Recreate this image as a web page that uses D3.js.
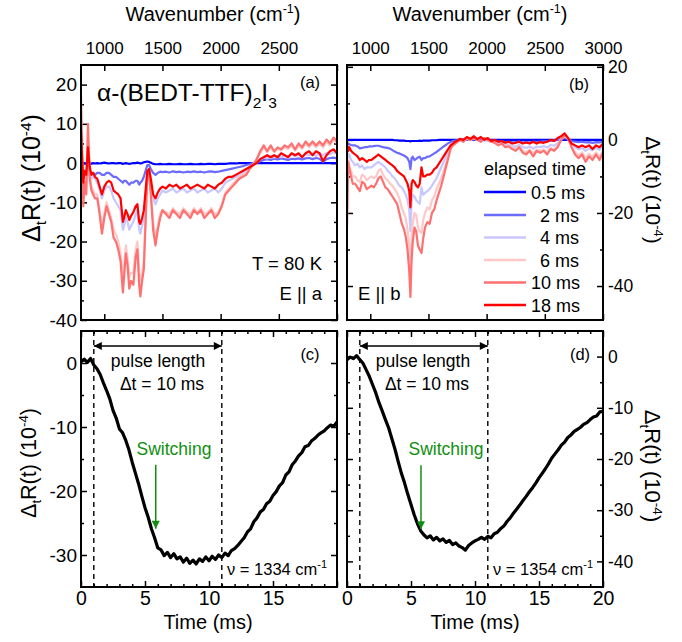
<!DOCTYPE html>
<html>
<head>
<meta charset="utf-8">
<script src="https://cdn.jsdelivr.net/npm/d3@7"></script>
<style>
  body { margin: 0; background: #fff; }
</style>
</head>
<body>
<script>
// ---- data ----
// (a) E || a spectra, wavenumber grid in cm-1
var wnA = [800,810,820,830,845,860,875,890,905,920,
  940,960,980,1000,1020,1040,1060,1080,1100,1120,
  1140,1160,1170,1185,1200,1215,1230,1250,1270,1285,
  1300,1310,1325,1340,1355,1370,1385,1400,1420,1440,
  1460,1480,1500,1530,1560,1590,1620,1650,1680,1710,
  1740,1770,1800,1830,1860,1890,1920,1950,1980,2010,
  2040,2070,2100,2130,2160,2190,2220,2250,2280,2310,
  2340,2370,2400,2430,2460,2490,2520,2550,2580,2610,
  2640,2670,2700,2730,2760,2790,2820,2850,2880,2910,
  2940,2970,3000];
var a05 = [0.5,0.2,-0.3,0,-0.2,0.3,0,-0.2,0,-0.1,
  0,-0.1,0,0.1,0,-0.1,0,0,-0.1,0,
  0,-0.2,-0.1,0,-0.1,-0.2,-0.1,0,0,0.1,
  0,-0.1,0,0.2,0.3,0.4,0.3,0.1,-0.2,-0.3,
  -0.3,-0.2,-0.3,-0.3,-0.2,-0.3,-0.3,-0.2,-0.3,-0.3,
  -0.2,-0.3,-0.3,-0.2,-0.3,-0.2,-0.2,-0.3,-0.2,-0.2,
  -0.2,-0.1,-0.1,-0.1,0,0,0,0,0,0,
  0,0,0,0,0,0,0,0,0,0,
  0,0,0,0,0,0,0,0,0,0,
  0,0,0];
var a2 = [-1,-2,-3,-2,-2.5,-1.5,-2,-2.5,-2.5,-3,
  -2.5,-2.5,-3,-3,-2.5,-2.5,-3,-3.5,-3.5,-4,
  -4.5,-5,-4.5,-4.5,-5,-5.5,-5,-5,-4.5,-4.5,
  -5.5,-5,-4.5,-3.5,-2,-0.5,-0.5,-1.5,-2.5,-3,
  -2.5,-2.2,-2.3,-2.2,-2.4,-2.1,-2.3,-2.2,-2.4,-2.2,
  -2.3,-2.1,-2.3,-2.2,-2.4,-2.2,-2.1,-2.3,-2.2,-2,
  -1.8,-1.6,-1.4,-1.2,-1,-0.8,-0.5,-0.3,0,0.3,
  0.5,0.8,1,0.8,1.1,0.9,1.2,1,0.8,1.1,
  1,1.2,0.9,1.2,1.3,1,1.3,1.1,0.3,1,
  1.3,1.4,1.2];
var a4 = [6,0,-6,-3,-5,5,-2,-4,-3.5,-4,
  -5,-7,-9,-7,-6,-6,-7,-9,-10,-11,
  -12,-17,-16,-14,-15,-17,-16,-15,-13,-12,
  -17,-18,-16,-14,-8,-2.5,-2,-5,-9,-10.5,
  -9,-8,-7,-7.5,-7,-6.5,-7.5,-7,-6.5,-7.5,
  -7,-6.5,-7.5,-7,-6.5,-7.5,-7,-6.5,-7.5,-6.5,
  -5,-4.5,-4,-3.5,-3,-2.5,-2,-1,-0.5,0,
  1,1.5,1.2,1.8,1.4,1.8,1.5,2,1.6,2.2,
  1.7,2.2,1.6,2.3,2,2.4,1.8,2.5,2,2.6,
  2.2,2.8,2.3];
var a6 = [12,1,-9,-4,-7,7,-3,-6,-7,-8,
  -8,-12,-16,-13,-10,-12,-14,-17,-18,-20,
  -23,-29,-27,-21,-24,-29,-28,-28,-22,-20,
  -28,-30,-28,-25,-14,-3,-2,-7,-15,-19,
  -16,-13,-12,-12.5,-13,-11.5,-12.5,-13,-11.5,-12.5,
  -13,-11.5,-12.5,-11.5,-13,-12.5,-11.5,-13,-12.5,-10.5,
  -7.5,-6.5,-5.5,-4.5,-3.5,-3,-2.5,-1.2,-0.3,1,
  2.5,4,2.8,4,2.8,3.6,3.2,4,3.6,4.5,
  3.2,4.5,3.6,5,4,5,4,5,4,5.5,
  4.5,6,5];
var a10 = [17,2,-11,-5,-8,10,-4,-7,-8,-9,
  -9,-13,-18,-14,-11,-13,-15,-19,-20,-22,
  -25,-33,-29,-23,-26,-32,-30,-31,-24,-22,
  -31,-34,-30,-27,-15,-3,-2,-8,-17,-21,
  -17,-14,-12,-13,-14,-12,-13,-14,-12,-13,
  -14,-12,-13,-12,-14,-13,-12,-14,-13,-11,
  -8,-7,-6,-5,-4,-3.5,-3,-1.5,-0.5,1,
  3,4.5,3,4.5,3,4,3.5,4.5,4,5,
  3.5,5,4,5.5,4.5,5.5,4.5,5.5,4.5,6,
  5,6.5,5.5];
var a18 = [8,1,-5,-2,-3,4,-1,-3,-2.5,-3.5,
  -4,-6,-8,-6,-5,-4.5,-5,-7,-7.5,-8,
  -9,-15,-14,-12,-13,-14.5,-13.5,-12.5,-11,-10.5,
  -15,-15.5,-14,-12,-7,-2,-1.5,-4,-8,-9,
  -7.5,-6.5,-6,-6.5,-5.5,-6,-5.5,-6.5,-6,-5.5,
  -6.5,-6,-5.5,-6,-6.5,-5.5,-6,-6.5,-5.5,-5,
  -4,-3.5,-3.5,-3,-2.5,-2,-1.5,-1,-0.5,0,
  1,1.5,2,1.5,2,1.5,2.5,2,1.5,2.5,
  2,2.5,1.5,2.5,3,2,3,2.5,0.5,2,
  3,3.5,2.5];

// (b) E || b spectra
var wnB = [800,810,820,835,850,870,890,910,930,950,
  970,990,1010,1030,1050,1070,1090,1110,1130,1150,
  1170,1190,1210,1230,1250,1270,1290,1305,1320,1335,
  1345,1355,1365,1380,1395,1410,1425,1440,1455,1470,
  1490,1510,1530,1550,1570,1590,1610,1630,1650,1670,
  1690,1710,1730,1750,1770,1800,1830,1860,1890,1920,
  1950,1980,2010,2040,2070,2100,2130,2160,2190,2220,
  2250,2280,2310,2340,2370,2400,2430,2460,2490,2520,
  2550,2580,2610,2640,2670,2700,2730,2760,2790,2820,
  2850,2880,2910,2940,2970,3000];
var b05 = [0,0,0,0,0,0,0,0,0,0,
  0,0,0,0,0,0,0,0,0,0,
  0,0,-0.1,-0.1,-0.2,-0.2,-0.2,-0.3,-0.3,-0.3,
  -0.4,-0.3,-0.3,-0.3,-0.3,-0.3,-0.2,-0.3,-0.2,-0.2,
  -0.2,-0.2,-0.1,-0.1,-0.1,0,0,0,0,0,
  0,0,0,0,0,0,0,0,0,0,
  0,0,0,0,0,0,0,0,0,0,
  0,0,0,0,0,0,0,0,0,0,
  0,0,0,0,0,0,0,0,0,0,
  0,0,0,0,0,0];
var b2 = [-0.5,-1,-1.2,-1.4,-1.5,-1.5,-1.8,-2.3,-2.2,-2,
  -2,-1.8,-1.8,-1.7,-1.6,-1.6,-1.8,-2,-2.1,-2.2,
  -2.4,-2.8,-3.2,-3.5,-3.7,-4,-4.3,-4.6,-5,-6,
  -8,-5,-4.6,-5.5,-5.2,-4.8,-4.6,-5.5,-5,-5,
  -4.6,-4.5,-4.1,-3.7,-3.3,-2.8,-2.3,-1.8,-1.4,-0.9,
  -0.6,-0.3,-0.2,-0.1,0,0,0.1,0,0.2,0,
  0,-0.1,0,-0.2,-0.3,-0.5,-0.4,-0.6,-0.5,-0.7,
  -0.6,-0.5,-0.7,-0.6,-0.7,-0.5,-0.6,-0.5,-0.4,-0.4,
  -0.2,-0.2,0,0.2,0.5,0.2,-0.3,-0.5,-0.6,-0.5,
  -0.7,-0.6,-0.8,-0.6,-0.7,-0.5];
var b4 = [-2,-5,-4,-5.5,-6,-7,-6.5,-7.5,-7,-8,
  -7.5,-7.5,-7.5,-7,-6.5,-6,-6.5,-7,-7.5,-8.5,
  -9,-10,-10.5,-11.5,-12.5,-13,-14,-15,-16.5,-19,
  -25,-17,-15,-15.5,-16.5,-17,-17.5,-13,-15,-14.5,
  -14,-13.5,-12.5,-11.5,-10.5,-9,-7.5,-6,-4.5,-3.5,
  -2,-1.2,-0.7,-0.3,0,-0.3,0.4,0,0.5,0,
  -0.4,0.2,-0.2,-0.5,-0.7,-1.2,-0.9,-1.5,-1.3,-1.7,
  -1.9,-1.4,-2,-2.2,-1.8,-2.4,-1.8,-2,-1.7,-2.1,
  -1.4,-1.6,-1,0.2,1.4,0.4,-1.2,-2,-2.6,-2.2,
  -3,-2.4,-2.8,-2.2,-2.7,-1.8];
var b6 = [-20,-5,-7,-8.5,-10,-10,-11,-11.5,-9.5,-10,
  -11,-10.5,-10,-10.5,-10,-8.5,-8,-9.5,-10.5,-11,
  -12,-12.5,-13.5,-14.5,-16,-18.5,-20,-21.5,-24.5,-29,
  -35,-27,-23,-20,-20.5,-24,-25,-25.5,-22,-20,
  -18.5,-19,-16.5,-15.5,-13.5,-12,-10.5,-8.5,-6.5,-4.3,
  -2.2,-1.3,-0.9,-0.5,0,-0.5,0.4,0,0.4,0,
  -0.5,0.3,-0.1,-0.5,-0.8,-1.3,-1,-1.7,-1.6,-2.2,
  -2.6,-1.8,-3,-3.4,-2.6,-3.8,-2.6,-3,-2.6,-3.4,
  -2.2,-2.6,-1.7,0,1.2,0.3,-1.8,-3.4,-4.2,-3.4,
  -5,-3.8,-4.6,-3.4,-4.6,-3];
var b10 = [-24,-6,-8,-10,-12,-12,-13,-14,-11.5,-12,
  -13.5,-13,-12.5,-13,-12,-10.5,-10,-11.5,-13,-13.5,
  -14.5,-15.5,-16.5,-17.5,-20,-22.8,-24.5,-26.5,-30,-36,
  -43,-33,-28,-24,-25,-29,-30,-31,-27,-24,
  -22.5,-23,-20,-19,-16.5,-14.5,-12.5,-10,-7.5,-5,
  -2.5,-1.5,-1,-0.5,0,-0.5,0.5,0,0.5,0,
  -0.5,0.5,0,-0.5,-0.8,-1.5,-1,-2,-1.8,-2.5,
  -3,-2,-3.5,-4,-3,-4.5,-3,-3.5,-3,-4,
  -2.5,-3,-2,0,1.5,0.5,-2,-4,-5,-4,
  -6,-4.5,-5.5,-4,-5.5,-3.5];
var b18 = [-1,-3,-2,-3,-3.5,-4,-4.5,-5.5,-5,-5.5,
  -6,-5.5,-5.5,-5,-4.5,-4,-4.5,-5,-5.5,-6,
  -6.5,-7,-7.5,-8.5,-9,-9.5,-10,-11,-12,-14,
  -18.5,-12,-11,-11.5,-12.5,-13,-12,-7.5,-10,-10,
  -9.5,-9.5,-9,-8,-7.5,-6.5,-5.5,-4.5,-3.5,-2.5,
  -1.5,-1,-0.5,-0.2,0.3,0,0.8,0.3,1,0.2,
  0.8,0,0.5,-0.3,0,-0.5,-0.3,-0.8,-0.5,-1,
  -0.8,-0.5,-1,-0.7,-1,-0.5,-1,-0.6,-0.8,-0.5,
  0,-0.3,0.5,1,1.8,0.5,-1,-1.5,-2,-1.5,
  -2,-1.5,-2.5,-1.5,-2,-1];

var elapsed = ["0.5 ms", "2 ms", "4 ms", "6 ms", "10 ms", "18 ms"];
var colors = ["#0000ff", "#6b6bff", "#c8c8ff", "#ffc8c8", "#ff7070", "#ff0000"];

// (c), (d) time traces, sampled every 0.25 ms from 0 to 20 ms
var tStep = 0.25;
var traceC = [0.2,0.6,0.1,0.7,-0.3,-0.9,-1.8,-3.1,-4.3,-5.6,
  -7.4,-8.6,-10.3,-10.9,-12.1,-13.6,-15.5,-17.2,-18.9,-20.8,
  -22.6,-24.1,-25.9,-27.3,-28.9,-29.2,-30.1,-29.6,-30.4,-29.8,
  -30.6,-30.3,-31.1,-30.5,-31.3,-30.8,-31.4,-30.6,-31.0,-30.3,
  -30.9,-30.2,-30.7,-30.0,-30.4,-29.7,-30.1,-29.3,-29.0,-28.5,
  -27.9,-27.3,-26.4,-25.9,-24.8,-24.2,-23.3,-22.9,-22.0,-21.6,
  -20.7,-20.1,-19.2,-18.7,-17.5,-17.0,-15.9,-15.3,-14.5,-14.0,
  -13.1,-12.9,-12.2,-11.8,-11.3,-10.9,-10.6,-10.1,-9.7,-9.9,
  -9.2];
var traceD = [-0.6,-0.1,-0.4,0.2,-0.6,-1.3,-2.6,-3.9,-5.5,-7.1,
  -9.0,-10.6,-12.3,-13.9,-16.0,-18.1,-20.5,-22.8,-24.7,-26.9,
  -28.9,-30.9,-32.6,-34.0,-34.8,-35.4,-35.0,-35.8,-35.3,-36.0,
  -35.6,-36.3,-35.9,-36.7,-36.4,-37.0,-37.3,-37.8,-36.9,-36.4,
  -36.0,-35.7,-35.3,-35.7,-35.1,-35.4,-34.6,-34.3,-33.6,-33.1,
  -32.2,-31.5,-30.6,-29.8,-29.0,-28.1,-27.3,-26.4,-25.6,-24.7,
  -23.7,-22.8,-21.9,-20.9,-19.8,-19.0,-18.2,-17.3,-16.7,-15.8,
  -15.3,-14.6,-14.2,-13.8,-13.2,-12.9,-12.3,-11.8,-11.6,-10.8,
  -10.7];

// ---- drawing ----
var W = 682, H = 642;
var font = '"Liberation Sans", Arial, Helvetica, sans-serif';
var svg = d3.select("body").append("svg")
    .attr("width", W).attr("height", H)
    .attr("font-family", font);

var xa = d3.scaleLinear().domain([800, 3000]).range([81, 337]);
var xb = d3.scaleLinear().domain([800, 3000]).range([347, 603]);
var ya = d3.scaleLinear().domain([-40, 25]).range([320, 65]);
var yb = d3.scaleLinear().domain([-49.3, 20.5]).range([320, 65]);
var xc = d3.scaleLinear().domain([0, 20]).range([81, 337]);
var xd = d3.scaleLinear().domain([0, 20]).range([347, 603]);
var yc = d3.scaleLinear().domain([-35, 5]).range([587, 331]);
var yd = d3.scaleLinear().domain([-45, 5]).range([587, 331]);

var defs = svg.append("defs");
function marker(id, col) {
  defs.append("marker")
      .attr("id", id)
      .attr("viewBox", "0 0 10 10")
      .attr("refX", 10).attr("refY", 5)
      .attr("markerWidth", 11).attr("markerHeight", 8)
      .attr("markerUnits", "userSpaceOnUse")
      .attr("orient", "auto-start-reverse")
    .append("path")
      .attr("d", "M0,0 L10,5 L0,10 z")
      .attr("fill", col);
}
marker("arrBlack", "#000");
marker("arrGreen", "#109010");

// one side of ticks (inward), optional labels
function ticks(axis, scale, tx, ty, vals, size, labels, pad, fs) {
  var ax = axis(scale).tickValues(vals)
      .tickSizeInner(-size).tickSizeOuter(0).tickPadding(pad || 4)
      .tickFormat(function(d) { return labels && labels.indexOf(d) >= 0 ? String(d) : ""; });
  var g = svg.append("g")
      .attr("transform", "translate(" + tx + "," + ty + ")")
      .call(ax);
  g.select(".domain").remove();
  g.selectAll("line").attr("stroke", "#000").attr("stroke-width", 1.5);
  g.selectAll("text").attr("font-size", fs || 17).attr("font-family", font).attr("fill", "#000");
}

function panel(id, xs, ys, o) {
  var x0 = xs.range()[0], x1 = xs.range()[1];
  var y0 = ys.range()[1], y1 = ys.range()[0];
  // top / bottom
  ticks(d3.axisTop, xs, 0, y0, o.xMaj, 6, o.topLab, 11, 17);
  ticks(d3.axisBottom, xs, 0, y1, o.xMaj, 6, o.botLab, 4, 19.5);
  if (o.xMin) {
    ticks(d3.axisTop, xs, 0, y0, o.xMin, 3);
    ticks(d3.axisBottom, xs, 0, y1, o.xMin, 3);
  }
  // left / right
  ticks(d3.axisLeft, ys, x0, 0, o.yMaj, 6, o.leftLab, 4, 19);
  ticks(d3.axisRight, ys, x1, 0, o.yMaj, 6, o.rightLab, 5, 17.5);
  ticks(d3.axisLeft, ys, x0, 0, o.yMin, 3);
  ticks(d3.axisRight, ys, x1, 0, o.yMin, 3);

  defs.append("clipPath").attr("id", "clip" + id)
    .append("rect").attr("x", x0).attr("y", y0).attr("width", x1 - x0).attr("height", y1 - y0);
  var plot = svg.append("g").attr("clip-path", "url(#clip" + id + ")");
  svg.append("rect")
      .attr("x", x0).attr("y", y0).attr("width", x1 - x0).attr("height", y1 - y0)
      .attr("fill", "none").attr("stroke", "#000").attr("stroke-width", 2);
  return plot;
}

var wnMaj = [1000, 1500, 2000, 2500, 3000];
var tMaj = [0, 5, 10, 15, 20];
var tMin = [1,2,3,4,6,7,8,9,11,12,13,14,16,17,18,19];

var pa = panel("a", xa, ya, {
  xMaj: wnMaj, topLab: [1000, 1500, 2000, 2500],
  yMaj: [20, 10, 0, -10, -20, -30, -40], yMin: [15, 5, -5, -15, -25, -35],
  leftLab: [20, 10, 0, -10, -20, -30, -40]
});
var pb = panel("b", xb, yb, {
  xMaj: wnMaj, topLab: [1000, 1500, 2000, 2500, 3000],
  yMaj: [20, 0, -20, -40], yMin: [10, -10, -30],
  rightLab: [20, 0, -20, -40]
});
var pc = panel("c", xc, yc, {
  xMaj: tMaj, xMin: tMin, botLab: [0, 5, 10, 15],
  yMaj: [0, -10, -20, -30], yMin: [-5, -15, -25],
  leftLab: [0, -10, -20, -30]
});
var pd = panel("d", xd, yd, {
  xMaj: tMaj, xMin: tMin, botLab: [0, 5, 10, 15, 20],
  yMaj: [0, -10, -20, -30, -40], yMin: [-5, -15, -25, -35],
  rightLab: [0, -10, -20, -30, -40]
});

// spectra
function spectra(plot, wn, series, xs, ys) {
  var line = d3.line()
      .defined(function(d) { return d != null; })
      .x(function(d, i) { return xs(wn[i]); })
      .y(function(d) { return ys(d); });
  series.forEach(function(s, k) {
    plot.append("path")
        .attr("d", line(s))
        .attr("fill", "none")
        .attr("stroke", colors[k])
        .attr("stroke-width", 2.2)
        .attr("stroke-linejoin", "round");
  });
}
spectra(pa, wnA, [a05, a2, a4, a6, a10, a18], xa, ya);
spectra(pb, wnB, [b05, b2, b4, b6, b10, b18], xb, yb);

// time traces
function trace(plot, vals, xs, ys) {
  var line = d3.line()
      .x(function(d, i) { return xs(i * tStep); })
      .y(function(d) { return ys(d); });
  plot.append("path")
      .attr("d", line(vals))
      .attr("fill", "none")
      .attr("stroke", "#000")
      .attr("stroke-width", 3.2)
      .attr("stroke-linejoin", "round");
}
trace(pc, traceC, xc, yc);
trace(pd, traceD, xd, yd);

// pulse annotations
function pulse(xs, ys, arrowV, swT, swTop, swBot) {
  [1, 11].forEach(function(t) {
    svg.append("line")
        .attr("x1", xs(t)).attr("x2", xs(t))
        .attr("y1", ys.range()[1]).attr("y2", ys.range()[0])
        .attr("stroke", "#000").attr("stroke-width", 1.4)
        .attr("stroke-dasharray", "5,4");
  });
  svg.append("line")
      .attr("x1", xs(1)).attr("x2", xs(11))
      .attr("y1", ys(arrowV)).attr("y2", ys(arrowV))
      .attr("stroke", "#000").attr("stroke-width", 1.6)
      .attr("marker-start", "url(#arrBlack)")
      .attr("marker-end", "url(#arrBlack)");
  svg.append("line")
      .attr("x1", xs(swT)).attr("x2", xs(swT))
      .attr("y1", ys(swTop)).attr("y2", ys(swBot))
      .attr("stroke", "#109010").attr("stroke-width", 1.5)
      .attr("marker-end", "url(#arrGreen)");
}
pulse(xc, yc, 2.66, 5.84, -15.9, -25.9);
pulse(xd, yd, 2.07, 5.78, -21.2, -33.7);

// ---- text ----
function txt(x, y, s, fs, anchor, col) {
  return svg.append("text")
      .attr("x", x).attr("y", y)
      .attr("font-size", fs)
      .attr("text-anchor", anchor || "start")
      .attr("fill", col || "#000")
      .text(s);
}

// top titles
[213, 480].forEach(function(cx) {
  var t = txt(cx, 21, "Wavenumber (cm", 20, "middle");
  t.append("tspan").attr("font-size", 12.5).attr("dy", -8).text("-1");
  t.append("tspan").attr("dy", 8).text(")");
});
// bottom titles
txt(208, 629, "Time (ms)", 20, "middle");
txt(475, 629, "Time (ms)", 20, "middle");

// y titles
function yTitle(x, y, rot, fs) {
  var t = svg.append("text")
      .attr("transform", "translate(" + x + "," + y + ") rotate(" + rot + ")")
      .attr("text-anchor", "middle")
      .attr("font-size", fs);
  t.append("tspan").text("\u0394");
  t.append("tspan").attr("font-size", fs * 0.62).attr("dy", fs * 0.25).text("t");
  t.append("tspan").attr("dy", -fs * 0.25).text("R(t) (10");
  t.append("tspan").attr("font-size", fs * 0.62).attr("dy", -fs * 0.38).text("-4");
  t.append("tspan").attr("dy", fs * 0.38).text(")");
}
yTitle(40, 178, -90, 25);
yTitle(36, 463, -90, 21.5);
yTitle(646, 190, 90, 21);
yTitle(645, 466, 90, 22);

// panel (a)
var f = txt(97, 101, "\u03b1-(BEDT-TTF)", 24.5);
f.append("tspan").attr("font-size", 15.5).attr("dy", 7).text("2");
f.append("tspan").attr("dy", -7).text("I");
f.append("tspan").attr("font-size", 15.5).attr("dy", 7).text("3");
txt(310, 88, "(a)", 16.5, "middle");
txt(322, 270, "T = 80 K", 18.5, "end");
txt(322, 300, "E || a", 18.5, "end");

// panel (b)
txt(579, 90, "(b)", 16.5, "middle");
txt(358, 300, "E || b", 18.5);
txt(535, 175, "elapsed time", 18, "middle");
var legY = [192, 215, 237.5, 260, 282.5, 305];
var legX = [531, 540, 540, 540, 531, 531];
elapsed.forEach(function(s, k) {
  svg.append("line")
      .attr("x1", 484).attr("x2", 526)
      .attr("y1", legY[k]).attr("y2", legY[k])
      .attr("stroke", colors[k]).attr("stroke-width", 2.5);
  txt(legX[k], legY[k] + 6.5, s, 18);
});

// panels (c), (d)
function pulseText(cx, lab, labX, nuX, nu) {
  txt(cx, 367, "pulse length", 17.5, "middle");
  txt(cx + 4, 390, "\u0394t = 10 ms", 17.5, "middle");
  txt(labX, 360, lab, 16.5, "middle");
  var n = txt(nuX, 575, "\u03bd = " + nu + " cm", 16.5);
  n.append("tspan").attr("font-size", 11).attr("dy", -7).text("-1");
}
pulseText(158, "(c)", 310, 227, "1334");
pulseText(423, "(d)", 580, 493, "1354");
txt(174, 455, "Switching", 17.5, "middle", "#109010");
txt(446, 455, "Switching", 17.5, "middle", "#109010");
</script>
</body>
</html>
